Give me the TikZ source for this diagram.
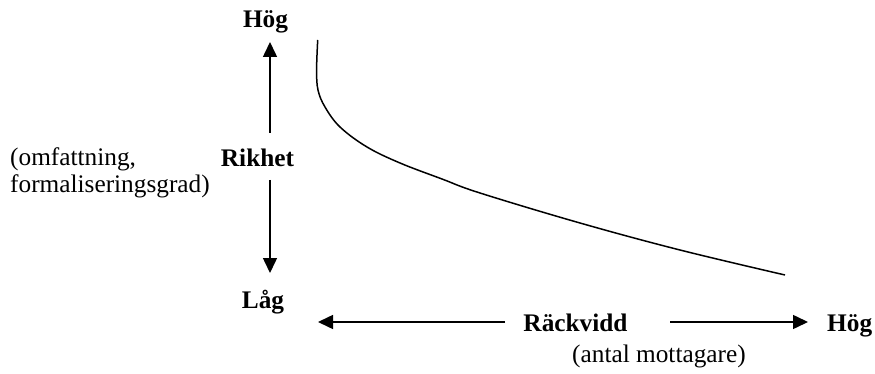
\documentclass[tikz,border=0pt]{standalone}
\usepackage{fontspec}
\setmainfont{Liberation Serif}
\usetikzlibrary{arrows.meta}
\tikzset{
  lbl/.style={inner sep=0pt, font=\fontsize{25.3}{27}\selectfont},
  blbl/.style={lbl, font=\fontsize{25.3}{27}\selectfont\bfseries},
  axis/.style={line width=1.5pt, -{Triangle[length=15pt,width=14pt]}},
  curveline/.style={line width=1.5pt}
}
\begin{document}
\begin{tikzpicture}[x=1pt,y=-1pt]
\useasboundingbox (0,0) rectangle (875,374);
% texts
\node[blbl, anchor=base] (hogtop) at (265.5,28) {Hög};
\node[blbl, anchor=base] (lag) at (263,308) {Låg};
\node[blbl, anchor=base] (rikhet) at (257.5,167) {Rikhet};
\node[lbl, anchor=base west] (omf) at (10,166) {(omfattning,};
\node[lbl, anchor=base west] (form) at (10,193) {formaliseringsgrad)};
\node[blbl, anchor=base] (rack) at (575.5,331) {Räckvidd};
\node[blbl, anchor=base west] (hogright) at (827,331) {Hög};
\node[lbl, anchor=base west] (antal) at (572,362) {(antal mottagare)};
% arrow end points
\coordinate (upS) at (270,133);
\coordinate (upT) at (270,42);
\coordinate (dnS) at (270,180);
\coordinate (dnT) at (270,273);
\coordinate (lS) at (505,322);
\coordinate (lT) at (318,322);
\coordinate (rS) at (670,322);
\coordinate (rT) at (808,322);
\draw[axis] (upS) -- (upT);
\draw[axis] (dnS) -- (dnT);
\draw[axis] (lS) -- (lT);
\draw[axis] (rS) -- (rT);
% curve
\draw[curveline] plot[smooth, tension=0.6] coordinates {(317.7,40) (316.6,70) (318,90) (325,107) (340,127) (367,147) (400,163) (442,179) (480,193) (580,223) (680,250) (785,275)};
\end{tikzpicture}
\end{document}
